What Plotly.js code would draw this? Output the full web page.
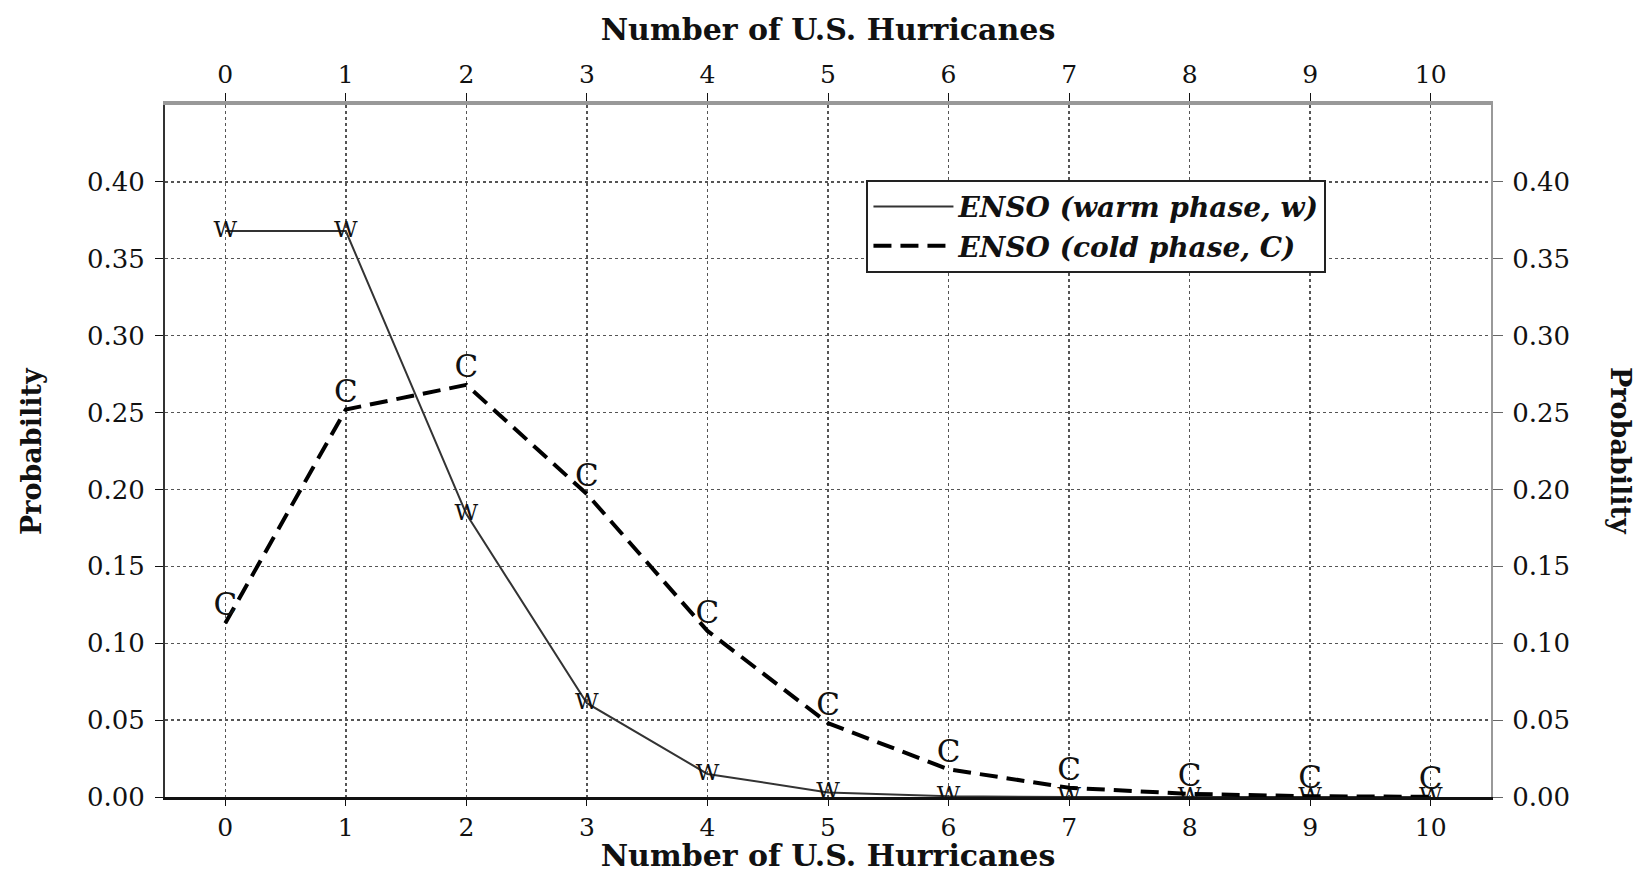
<!DOCTYPE html>
<html><head><meta charset="utf-8">
<script src="https://cdn.plot.ly/plotly-3.0.1.min.js"></script>
<style>html,body{margin:0;padding:0;background:#fff}#c{width:1644px;height:873px}</style>
</head><body><div id="c"></div>
<script>
const hurricanes = [0,1,2,3,4,5,6,7,8,9,10];
const warmProb = [0.368,0.368,0.184,0.061,0.015,0.003,0.0005,0,0,0,0];
const coldProb = [0.113,0.252,0.268,0.197,0.108,0.048,0.018,0.006,0.002,0.0005,0.0001];
const yTicks = [0,0.05,0.10,0.15,0.20,0.25,0.30,0.35,0.40];
const warmLabel = 'ENSO (warm phase, w)';
const coldLabel = 'ENSO (cold phase, C)';

const serif = 'DejaVu Serif, Liberation Serif, serif';
const traces = [
  {x: hurricanes, y: warmProb, mode: 'lines+text', name: warmLabel,
   text: hurricanes.map(()=> 'W'), textposition: 'middle center',
   textfont: {family: serif, size: 23, color: '#111'},
   line: {color: '#333', width: 2}, xaxis: 'x', yaxis: 'y'},
  {x: hurricanes, y: coldProb, mode: 'lines+text', name: coldLabel,
   text: hurricanes.map(()=> 'C'), textposition: 'top center',
   textfont: {family: serif, size: 31, color: '#111'},
   line: {color: '#000', width: 4, dash: '18px,9px'}, xaxis: 'x', yaxis: 'y'},
  {x: hurricanes, y: warmProb, mode: 'lines', showlegend: false, hoverinfo: 'skip',
   line: {color: 'rgba(0,0,0,0)'}, xaxis: 'x2', yaxis: 'y2'}
];

const gridDot = {showgrid: true, gridcolor: '#555', griddash: 'dot', gridwidth: 1.4};
const layout = {
  width: 1644, height: 873,
  margin: {l: 165, r: 153, t: 105, b: 76},
  paper_bgcolor: '#fff', plot_bgcolor: '#fff',
  font: {family: serif, color: '#111', size: 24},
  showlegend: true,
  legend: {x: 0.529, y: 0.892, xanchor: 'left', yanchor: 'top',
    bgcolor: '#fff', bordercolor: '#222', borderwidth: 2,
    font: {family: serif, size: 28, color: '#111', style: 'italic', weight: 'bold'},
    tracegroupgap: 0, itemwidth: 80},
  xaxis: Object.assign({range: [-0.5, 10.5], tickvals: hurricanes, ticks: 'outside', ticklen: 6,
    tickcolor: '#111', showline: true, linecolor: '#111', linewidth: 3, zeroline: false,
    title: {text: '<b>Number of U.S. Hurricanes</b>', font: {family: serif, size: 30}, standoff: 0},
    tickfont: {family: serif, size: 25}}, gridDot),
  xaxis2: {overlaying: 'x', side: 'top', matches: 'x', range: [-0.5, 10.5], tickvals: hurricanes,
    ticks: 'outside', ticklen: 8, tickcolor: '#111', showline: true, linecolor: '#999', linewidth: 4,
    showgrid: false, zeroline: false,
    title: {text: '<b>Number of U.S. Hurricanes</b>', font: {family: serif, size: 30}, standoff: 12},
    tickfont: {family: serif, size: 25}},
  yaxis: Object.assign({range: [0, 0.45], tickvals: yTicks, tickformat: '.2f', ticks: 'outside', ticklen: 8,
    ticklabelstandoff: 5,
    tickcolor: '#111', showline: true, linecolor: '#333', linewidth: 2, zeroline: false,
    tickfont: {family: serif, size: 26}}, gridDot),
  yaxis2: {overlaying: 'y', side: 'right', matches: 'y', range: [0, 0.45], tickvals: yTicks, tickformat: '.2f',
    ticks: 'outside', ticklen: 10, tickcolor: '#666', showline: true, linecolor: '#999', linewidth: 2,
    ticklabelstandoff: 4,
    showgrid: false, zeroline: false, tickfont: {family: serif, size: 26}},
  annotations: [
    {text: '<b>Probability</b>', xref: 'paper', yref: 'paper', x: -0.101, y: 0.5,
     xanchor: 'center', yanchor: 'middle', showarrow: false, textangle: -90,
     font: {family: serif, size: 27, color: '#111'}},
    {text: '<b>Probability</b>', xref: 'paper', yref: 'paper', x: 1.098, y: 0.5,
     xanchor: 'center', yanchor: 'middle', showarrow: false, textangle: 90,
     font: {family: serif, size: 27, color: '#111'}}]
};
Plotly.newPlot('c', traces, layout, {staticPlot: true});
</script></body></html>
